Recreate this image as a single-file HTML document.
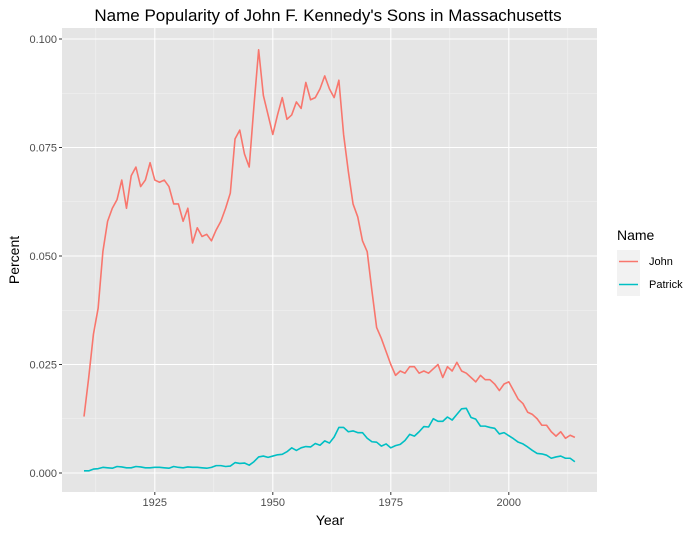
<!DOCTYPE html>
<html><head><meta charset="utf-8"><style>
body{margin:0;background:#fff;font-family:"Liberation Sans",Arial,sans-serif}
</style></head><body>
<svg id="chart" width="700" height="535" xmlns="http://www.w3.org/2000/svg">
<text x="328" y="21" font-size="17" text-anchor="middle" fill="#000">Name Popularity of John F. Kennedy's Sons in Massachusetts</text>
<rect x="62" y="28" width="535" height="464" fill="#e5e5e5"/>
<g id="grid"></g><g id="series"></g><g id="axes"></g>
<text x="330" y="525" font-size="14" text-anchor="middle">Year</text>
<text transform="translate(19,260) rotate(-90)" font-size="14" text-anchor="middle">Percent</text>
<g>
<text x="617" y="240" font-size="14">Name</text>
<g><rect x="617" y="250" width="23" height="23" fill="#f2f2f2"/><line x1="619" x2="638" y1="261.5" y2="261.5" stroke="#F8766D" stroke-width="1.6"/><text x="649" y="265" font-size="11">John</text></g>
<g><rect x="617" y="273" width="23" height="23" fill="#f2f2f2"/><line x1="619" x2="638" y1="284.5" y2="284.5" stroke="#00BFC4" stroke-width="1.6"/><text x="649" y="288" font-size="11">Patrick</text></g>
</g>
</svg>
<script>
const years=[];for(let y=1910;y<=2014;y++)years.push(y);
const john=[0.013,0.022,0.032,0.038,0.051,0.058,0.061,0.063,0.0675,0.061,0.0685,0.0705,0.066,0.0675,0.0715,0.0675,0.067,0.0675,0.066,0.062,0.062,0.058,0.061,0.053,0.0565,0.0545,0.055,0.0535,0.056,0.058,0.061,0.0645,0.077,0.079,0.0735,0.0705,0.0845,0.0975,0.087,0.0825,0.078,0.0825,0.0865,0.0815,0.0825,0.0855,0.084,0.090,0.086,0.0865,0.0885,0.0915,0.0885,0.0865,0.0905,0.078,0.0695,0.062,0.059,0.0535,0.051,0.042,0.0335,0.031,0.028,0.025,0.0225,0.0235,0.023,0.0245,0.0245,0.023,0.0235,0.023,0.024,0.025,0.022,0.0245,0.0235,0.0255,0.0235,0.023,0.022,0.021,0.0225,0.0215,0.0215,0.0205,0.019,0.0205,0.021,0.019,0.017,0.016,0.014,0.0135,0.0125,0.011,0.011,0.0095,0.0085,0.0095,0.008,0.0087,0.0082];
const patrick=[0.0005,0.0005,0.0009,0.001,0.0013,0.0012,0.0011,0.0015,0.0014,0.0012,0.0012,0.0015,0.0014,0.0012,0.0012,0.0013,0.0013,0.0012,0.0011,0.0015,0.0013,0.0012,0.0014,0.0013,0.0013,0.0012,0.0011,0.0013,0.0017,0.0017,0.0015,0.0016,0.0024,0.0022,0.0023,0.0018,0.0026,0.0037,0.0039,0.0036,0.0039,0.0042,0.0043,0.0049,0.0058,0.0052,0.0058,0.0061,0.006,0.0068,0.0064,0.0074,0.0069,0.0083,0.0105,0.0105,0.0095,0.0097,0.0093,0.0093,0.008,0.0072,0.0071,0.0062,0.0067,0.0058,0.0063,0.0066,0.0075,0.0089,0.0085,0.0095,0.0107,0.0106,0.0125,0.0119,0.0119,0.0129,0.0122,0.0135,0.0148,0.0149,0.0128,0.0124,0.0108,0.0108,0.0105,0.0103,0.009,0.0093,0.0086,0.0079,0.0071,0.0067,0.006,0.0052,0.0045,0.0044,0.0041,0.0034,0.0037,0.0039,0.0034,0.0034,0.0026];
const xTicks=[1925,1950,1975,2000];
const yTicks=[0,0.025,0.05,0.075,0.1];
const yTickLabels=["0.000","0.025","0.050","0.075","0.100"];
const X=y=>84+(y-1910)*4.72, Y=v=>473-v*4340;
const NS="http://www.w3.org/2000/svg";
function mk(p,t,a){const e=document.createElementNS(NS,t);for(const k in a)e.setAttribute(k,a[k]);p.appendChild(e);return e;}
const g=document.getElementById('grid'),ax=document.getElementById('axes'),s=document.getElementById('series');
const minorX=[1912.5,1937.5,1962.5,1987.5,2012.5],minorY=[0.0125,0.0375,0.0625,0.0875];
minorX.forEach(v=>{const l=mk(g,'line',{x1:X(v),x2:X(v),y1:28,y2:492,stroke:'#f2f2f2','stroke-width':0.6});

});
minorY.forEach(v=>{const l=mk(g,'line',{x1:62,x2:597,y1:Y(v),y2:Y(v),stroke:'#f2f2f2','stroke-width':0.6});

});
xTicks.forEach(v=>{const l=mk(g,'line',{x1:X(v),x2:X(v),y1:28,y2:492,stroke:'#fff','stroke-width':1.1});


const t=mk(ax,'line',{x1:X(v),x2:X(v),y1:492,y2:495,stroke:'#333'});


const tx=mk(ax,'text',{x:X(v),y:506,'font-size':11,'text-anchor':'middle',fill:'#4d4d4d'});tx.textContent=v;

});
yTicks.forEach((v,i)=>{const l=mk(g,'line',{x1:62,x2:597,y1:Y(v),y2:Y(v),stroke:'#fff','stroke-width':1.1});


const t=mk(ax,'line',{x1:59,x2:62,y1:Y(v),y2:Y(v),stroke:'#333'});


const tx=mk(ax,'text',{x:57,y:Y(v)+4,'font-size':11,'text-anchor':'end',fill:'#4d4d4d'});tx.textContent=yTickLabels[i];

});
[[john,'#F8766D','john-line'],[patrick,'#00BFC4','patrick-line']].forEach(([d,c,n])=>{
const p=mk(s,'polyline',{points:d.map((v,i)=>X(years[i])+','+Y(v)).join(' '),fill:'none',stroke:c,'stroke-width':1.6,'stroke-linejoin':'round'});

});
</script>
</body></html>
